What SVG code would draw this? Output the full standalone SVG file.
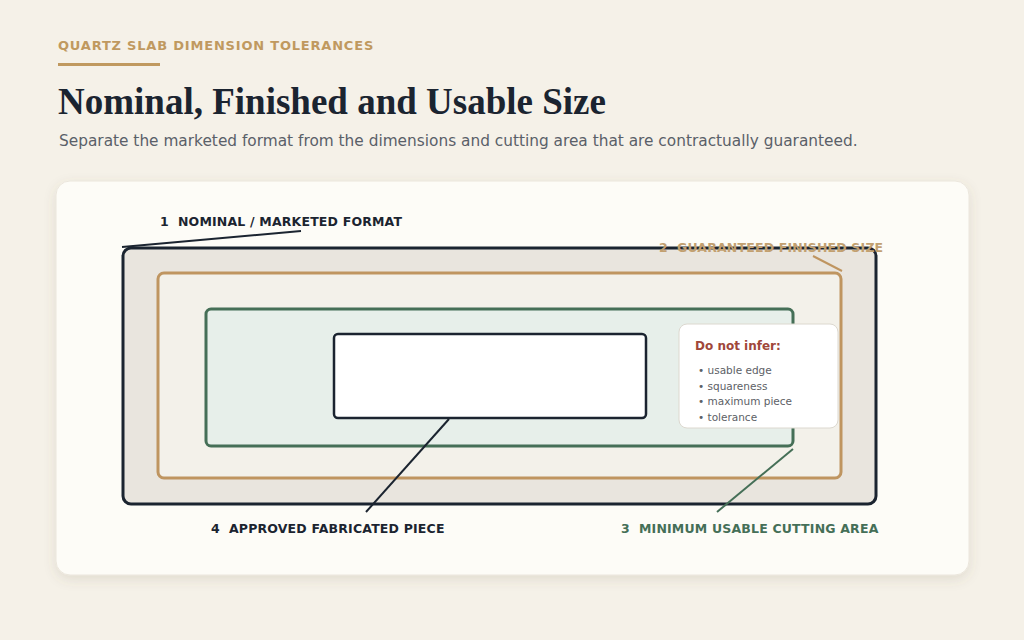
<svg xmlns="http://www.w3.org/2000/svg" width="1024" height="640" viewBox="0 0 1024 640">
<defs>
<style>
.sans{font-family:"DejaVu Sans","Liberation Sans",sans-serif}
.lbl{font-family:"DejaVu Sans","Liberation Sans",sans-serif;font-weight:bold;font-size:12.5px;letter-spacing:0.18px;white-space:pre}
.bul{font-family:"DejaVu Sans","Liberation Sans",sans-serif;font-size:10.5px;fill:#5d6166}
.lead{fill:none;stroke-width:2}
</style>
<filter id="sh" x="-10%" y="-10%" width="120%" height="130%">
<feDropShadow dx="0" dy="4" stdDeviation="6" flood-color="#6b5a3a" flood-opacity="0.14"/>
</filter>
</defs>
<rect width="1024" height="640" fill="#f5f1e8"/>
<g id="header">
<text x="58" y="50" class="sans" font-size="13" font-weight="bold" fill="#c0995f" letter-spacing="0.8">QUARTZ SLAB DIMENSION TOLERANCES</text>
<rect x="58" y="63" width="102" height="3" fill="#c0995f"/>
<text x="58" y="114" font-family="'Liberation Serif','Times New Roman',serif" font-size="37" font-weight="bold" fill="#1b2430">Nominal, Finished and Usable Size</text>
<text x="59" y="146" class="sans" font-size="15.35" fill="#5a6068">Separate the marketed format from the dimensions and cutting area that are contractually guaranteed.</text>
</g>
<rect id="card" x="56" y="181" width="913" height="394" rx="14" fill="#fdfcf7" stroke="#ebe6dc" filter="url(#sh)"/>
<g id="nominal">
<rect x="123" y="248" width="753" height="256" rx="8" fill="#e9e5de" stroke="#1b2430" stroke-width="3"/>
</g>
<g id="finished">
<rect x="158" y="273" width="683" height="205" rx="6" fill="#f3f1ea" stroke="#bf9560" stroke-width="3"/>
</g>
<g id="usable">
<rect x="206" y="309" width="587" height="137" rx="5" fill="#e7efea" stroke="#456f57" stroke-width="3"/>
</g>
<g id="piece">
<rect x="334" y="334" width="312" height="84" rx="4" fill="#ffffff" stroke="#1b2430" stroke-width="2.5"/>
</g>
<g id="note">
<rect x="679" y="324" width="159" height="104" rx="8" fill="#ffffff" stroke="#dcd8cf" stroke-width="1"/>
<text x="695" y="350" class="sans" font-size="12" font-weight="bold" fill="#a0473a">Do not infer:</text>
<text x="698" y="374" class="bul">• usable edge</text>
<text x="698" y="389.5" class="bul">• squareness</text>
<text x="698" y="405" class="bul">• maximum piece</text>
<text x="698" y="420.5" class="bul">• tolerance</text>
</g>
<g id="connectors">
<line class="lead" x1="301" y1="231" x2="122" y2="247" stroke="#1b2430" stroke-width="1.5"/>
<line class="lead" x1="813" y1="256" x2="842" y2="271" stroke="#bf9560" stroke-width="1.5"/>
<line class="lead" x1="793" y1="449" x2="717" y2="512" stroke="#456f57"/>
<line class="lead" x1="449" y1="419" x2="366" y2="512" stroke="#1b2430"/>
</g>
<g id="labels">
<text x="160" y="226" class="lbl" fill="#1b2430" xml:space="preserve">1  NOMINAL / MARKETED FORMAT</text>
<text x="659" y="252" class="lbl" fill="#c2a070" xml:space="preserve">2  GUARANTEED FINISHED SIZE</text>
<text x="621" y="533" class="lbl" fill="#456f57" xml:space="preserve">3  MINIMUM USABLE CUTTING AREA</text>
<text x="211" y="533" class="lbl" fill="#1b2430" xml:space="preserve">4  APPROVED FABRICATED PIECE</text>
</g>
</svg>
